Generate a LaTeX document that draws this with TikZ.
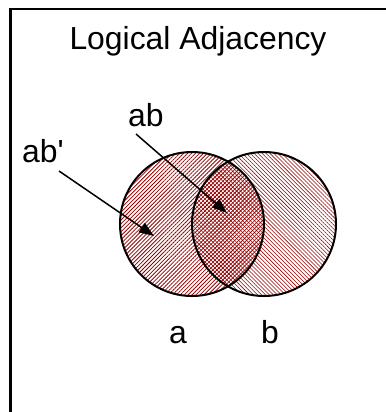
\documentclass[tikz,border=0pt]{standalone}
\usepackage{fontspec}
\newfontfamily\labelfont{Liberation Sans}
\usetikzlibrary{arrows.meta,patterns.meta}
\definecolor{hatchred}{RGB}{150,0,0}

\begin{document}
\begin{tikzpicture}[x=1bp,y=-1bp,font=\labelfont\fontsize{32}{38}\selectfont,
  txt/.style={inner sep=0pt,anchor=base west},
  setring/.style={circle,draw=black,line width=2bp,minimum size=144bp,inner sep=0pt},
  hatchl/.style={pattern={Lines[angle=45,distance=2.8pt,line width=0.8pt]},pattern color=hatchred},
  hatchr/.style={pattern={Lines[angle=-45,distance=2.8pt,line width=0.55pt]},pattern color=hatchred},
  pointer/.style={-{Triangle[length=15bp,width=11bp]},line width=1.5bp}]
\useasboundingbox (0,0) rectangle (386,412);
\draw[line width=2bp] (10.5,412) -- (10.5,8.5) -- (386,8.5);

\path[hatchl] (192,224) circle (72bp);
\path[hatchr] (264,224) circle (72bp);
\node[setring] (seta) at (192,224) {};
\node[setring] (setb) at (264,224) {};

\node[txt,anchor=base] (title) at (198,49) {Logical Adjacency};
\node[txt] (lblab) at (128,126) {ab};
\node[txt] (lblabn) at (22,162) {ab'};
\node[txt,anchor=base] (lbla) at (178,343) {a};
\node[txt,anchor=base] (lblb) at (270,343) {b};

\coordinate (abtail) at (136,134);
\coordinate (abtip) at (227,213);
\coordinate (abntail) at (59,171);
\coordinate (abntip) at (154,236);
\draw[pointer] (abtail) -- (abtip);
\draw[pointer] (abntail) -- (abntip);
\end{tikzpicture}
\end{document}
